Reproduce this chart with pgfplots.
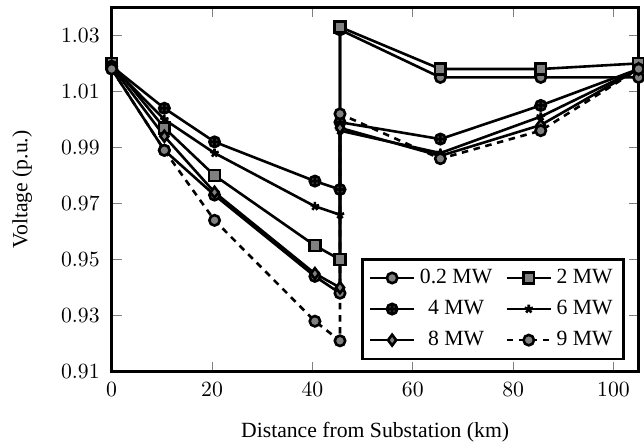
\documentclass[border=0pt]{standalone}
\usepackage{fontspec}
\setmainfont{Liberation Serif}
\usepackage{pgfplots}
\usepackage{pgfplotstable}
\pgfplotsset{compat=1.18}

% voltage profile along the feeder, one column per DG size
\pgfplotstableread{
x     a      b      c      d      e      f
0     1.018  1.020  1.019  1.019  1.019  1.018
10.5  0.989  0.997  1.004  1.000  0.994  0.989
20.5  0.973  0.980  0.992  0.988  0.974  0.964
40.5  0.944  0.955  0.978  0.969  0.945  0.928
45.5  0.938  0.950  0.975  0.966  0.940  0.921
45.5  1.032  1.033  0.999  0.996  0.997  1.002
65.5  1.015  1.018  0.993  0.988  0.987  0.986
85.5  1.015  1.018  1.005  1.001  0.998  0.996
105   1.015  1.020  1.018  1.018  1.018  1.018
}\voltdata

\begin{document}
\begin{tikzpicture}
\begin{axis}[
  name=main,
  scale only axis,
  width=243pt, height=168pt,
  xmin=0, xmax=105,
  ymin=0.91, ymax=1.04,
  xtick={0,20,40,60,80,100},
  ytick={0.91,0.93,0.95,0.97,0.99,1.01,1.03},
  yticklabel style={xshift=-2pt,
    /pgf/number format/fixed, /pgf/number format/fixed zerofill,
    /pgf/number format/precision=2},
  xticklabel style={yshift=-1.5pt},
  axis line style={line width=1.6pt},
  tick style={gray, thin},
  major tick length=4.6pt,
  xlabel={Distance from Substation (km)},
  ylabel={Voltage (p.u.)},
  xlabel style={inner sep=1pt, yshift=-7.3pt},
  ylabel style={yshift=6.5pt},
  legend columns=2,
  legend cell align=center,
  legend style={at={(0.974,0.031)}, anchor=south east,
                line width=1.3pt, font=\normalsize,
                row sep=2.2pt, inner ysep=2.6pt, inner xsep=3pt,
                /tikz/every even column/.append style={column sep=4pt}},
  legend image code/.code={
    \draw[mark repeat=2, mark phase=2]
      plot coordinates {(0cm,0cm) (0.36cm,0cm) (0.72cm,0cm)};},
  every axis plot/.append style={very thick, black},
]
\addplot[mark=*, mark size=2.4pt, mark options={fill=gray, solid}]
  table[x=x, y=a] \voltdata;
\addlegendentry{0.2 MW}
\addplot[mark=square*, mark size=2.5pt, mark options={fill=gray, solid}]
  table[x=x, y=b] \voltdata;
\addlegendentry{2 MW}
\addplot[mark=oplus*, mark size=2.4pt, mark options={fill=black!75, solid}]
  table[x=x, y=c] \voltdata;
\addlegendentry{4 MW}
\addplot[mark=star, mark size=2pt, mark options={solid}]
  table[x=x, y=d] \voltdata;
\addlegendentry{6 MW}
\addplot[mark=diamond*, mark size=2.5pt, mark options={fill=gray, solid}]
  table[x=x, y=e] \voltdata;
\addlegendentry{8 MW}
\addplot[dash pattern=on 3pt off 2.6pt, mark=*, mark size=2.4pt,
         mark options={fill=gray, solid}]
  table[x=x, y=f] \voltdata;
\addlegendentry{9 MW}
\end{axis}
% a little blank room above and to the left, as in the reference
\path ([yshift=3.4pt]main.north west) ++(-51.5pt,0pt);
\end{tikzpicture}
\end{document}
